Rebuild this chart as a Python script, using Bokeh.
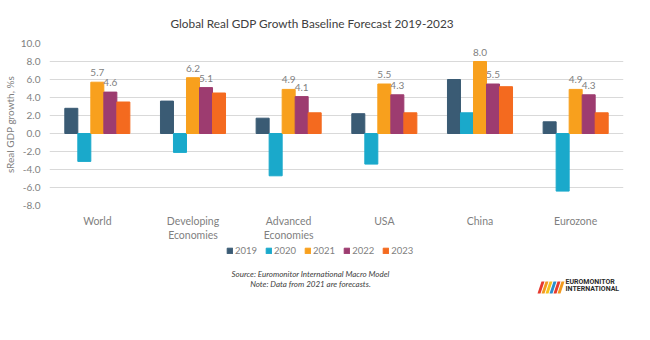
from bokeh.plotting import figure
from bokeh.layouts import column
from bokeh.models import (ColumnDataSource, FactorRange, Range1d, FixedTicker, NumeralTickFormatter,
                          Legend, LegendItem, LabelSet, Label, PolyAnnotation)
from bokeh.transform import dodge
from bokeh.core.properties import value
from bokeh.embed import file_html
from bokeh.resources import INLINE

categories = ["World", "Developing\nEconomies", "Advanced\nEconomies", "USA", "China", "Eurozone"]
years = ["2019", "2020", "2021", "2022", "2023"]
g2019 = [2.8, 3.6, 1.7, 2.2, 6.0, 1.3]
g2020 = [-3.1, -2.1, -4.7, -3.4, 2.3, -6.4]
g2021 = [5.7, 6.2, 4.9, 5.5, 8.0, 4.9]
g2022 = [4.6, 5.1, 4.1, 4.3, 5.5, 4.3]
g2023 = [3.5, 4.5, 2.3, 2.3, 5.2, 2.3]
y_ticks = [-8, -6, -4, -2, 0, 2, 4, 6, 8, 10]

series = [g2019, g2020, g2021, g2022, g2023]
colors = ["#3A5B74", "#1AA9CB", "#F8A01D", "#9D3C70", "#F46A1F"]
offsets = [-0.272, -0.136, 0.0, 0.136, 0.272]
bar_w = 0.136
FONT = "Lato"
GREY = "#7F7F7F"
FL = 49  # main frame left edge, the footer frame is aligned to it

data = {"cat": categories}
for y, s in zip(years, series):
    data["y" + y] = s
    data["t" + y] = ["%.1f" % v for v in s]
src = ColumnDataSource(data)

p = figure(width=650, height=243, x_range=FactorRange(*categories), y_range=Range1d(-8, 10),
           output_backend="svg", toolbar_location=None,
           min_border_left=FL, min_border_right=27, min_border_top=43, min_border_bottom=37)
p.outline_line_color = None

p.title.text = "Global Real GDP Growth Baseline Forecast 2019-2023"
p.title.align = "left"
p.title.offset = 121
p.title.standoff = 25
p.title.text_font = FONT
p.title.text_font_size = "11.8px"
p.title.text_font_style = "normal"
p.title.text_color = "#404040"

for y, c, off in zip(years, colors, offsets):
    p.vbar(x=dodge("cat", off, range=p.x_range), top="y" + y, bottom=0, width=bar_w,
           color=c, source=src)

for y, off in zip(["2021", "2022"], [offsets[2], offsets[3]]):
    p.add_layout(LabelSet(x=dodge("cat", off, range=p.x_range), y="y" + y, text="t" + y,
                          source=src, text_align="center", text_baseline="bottom", y_offset=6,
                          text_font=value(FONT), text_font_size="10px", text_color=GREY))

p.yaxis.ticker = FixedTicker(ticks=y_ticks)
p.yaxis.formatter = NumeralTickFormatter(format="0.0")
p.yaxis.axis_label = "sReal GDP growth, %s"
p.yaxis.axis_label_text_font = FONT
p.yaxis.axis_label_text_font_size = "10px"
p.yaxis.axis_label_text_font_style = "normal"
p.yaxis.axis_label_text_color = GREY
p.yaxis.axis_label_standoff = 2
p.yaxis.major_label_text_font = FONT
p.yaxis.major_label_text_font_size = "10px"
p.yaxis.major_label_text_color = GREY
p.yaxis.major_label_standoff = 9
p.yaxis.axis_line_color = None
p.yaxis.major_tick_line_color = None
p.yaxis.minor_tick_line_color = None
p.yaxis.major_tick_out = 0
p.yaxis.major_tick_in = 0

p.xaxis.major_label_text_font = FONT
p.xaxis.major_label_text_font_size = "10.5px"
p.xaxis.major_label_text_color = GREY
p.xaxis.major_label_standoff = 9
p.xaxis.axis_line_color = None
p.xaxis.major_tick_line_color = None
p.xaxis.minor_tick_line_color = None
p.xaxis.major_tick_out = 0
p.xaxis.major_tick_in = 0

p.xgrid.grid_line_color = None
p.ygrid.grid_line_color = "#D9D9D9"
p.ygrid.ticker = FixedTicker(ticks=y_ticks)

# footer: legend, source notes, logo
f = figure(width=650, height=97, x_range=Range1d(0, 1), y_range=Range1d(0, 1),
           x_axis_type=None, y_axis_type=None, output_backend="svg", toolbar_location=None,
           min_border=0)
f.outline_line_color = None
f.xgrid.grid_line_color = None
f.ygrid.grid_line_color = None

items = []
for y, c in zip(years, colors):
    r = f.vbar(x=[-1], top=[-1], width=0.1, color=c)  # legend proxy, outside the view
    items.append(LegendItem(label=y, renderers=[r]))
legend = Legend(items=items, orientation="horizontal", location=(228 - FL - 2, 84),
                label_text_font=FONT, label_text_font_size="9.5px", label_text_color=GREY,
                glyph_width=7, glyph_height=7, label_standoff=2, spacing=8,
                border_line_color=None, background_fill_alpha=0, padding=2, margin=0,
                label_height=10)
f.add_layout(legend)

for txt, yy in [("Source: Euromonitor International Macro Model", 67),
                ("Note: Data from 2021 are forecasts.", 57)]:
    f.add_layout(Label(x=310 - FL, y=yy, x_units="screen", y_units="screen", text=txt,
                       text_align="center", text_baseline="middle", text_font=FONT,
                       text_font_size="8px", text_font_style="italic", text_color="#404040"))

for txt, yy in [("EUROMONITOR", 59), ("INTERNATIONAL", 52)]:
    f.add_layout(Label(x=565 - FL, y=yy, x_units="screen", y_units="screen", text=txt,
                       text_align="left", text_baseline="middle", text_font="Roboto",
                       text_font_size="7px", text_font_style="bold", text_color="#2B2B2B"))
logo_colors = ["#E63A2E", "#F39A1E", "#F6C21C", "#2A8FCB", "#E63A2E", "#F39A1E"]
for i, c in enumerate(logo_colors):
    x0 = 537 - FL + i * 4
    f.add_layout(PolyAnnotation(xs=[x0, x0 + 3, x0 + 7, x0 + 4], ys=[47, 47, 59, 59],
                                xs_units="screen", ys_units="screen",
                                fill_color=c, fill_alpha=1, line_color=None))

layout = column(p, f, spacing=0)
open("out.html", "w").write(file_html(layout, INLINE))
